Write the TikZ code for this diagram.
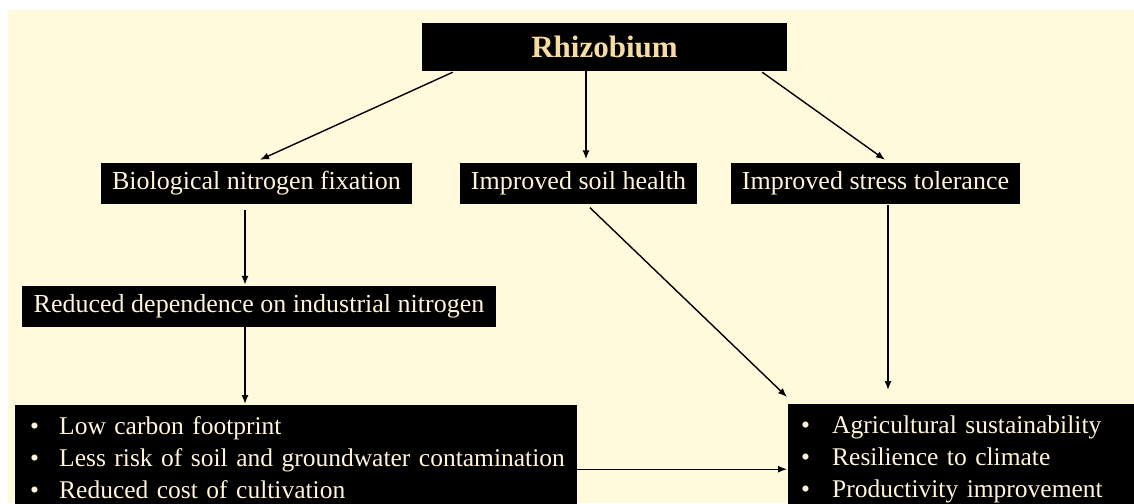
\documentclass[tikz,border=0pt]{standalone}
\usepackage{fontspec}
\setmainfont{Liberation Serif}
\usetikzlibrary{arrows.meta,calc}
\definecolor{creambg}{HTML}{FFFADC}
\definecolor{boxtext}{HTML}{FFF4DA}
\definecolor{goldtext}{HTML}{F6DCA4}

\begin{document}
\begin{tikzpicture}[x=1pt,y=-1pt,>={Latex[length=9pt,width=7pt]},line join=bevel,
  box/.style={fill=black,text=boxtext,inner sep=0pt,font=\fontsize{26}{32}\selectfont,minimum height=41pt},
  list/.style={box,anchor=north west,align=left,font=\fontsize{25.5}{32}\selectfont},
  link/.style={black,->,line width=1.4pt}]
\clip (0,0) rectangle (1134,503);
\fill[white] (0,0) rectangle (1134,503);
\fill[creambg] (8,10) rectangle (1134,503);
%%
\node (node_rhizobium) at (604.5,47) [box,minimum width=365pt,minimum height=48pt,text=goldtext,font=\fontsize{31}{36}\selectfont\bfseries] {Rhizobium};
  \node (node_fixation) at (256.5,183.5) [box,minimum width=311pt] {Biological nitrogen fixation};
  \node (node_soil) at (578.5,183) [box,minimum width=237pt] {Improved soil health};
  \node (node_stress) at (875.5,183.5) [box,minimum width=289pt] {Improved stress tolerance};
  \node (node_reduced) at (259,306.5) [box,minimum width=474pt] {Reduced dependence on industrial nitrogen};
  \node (node_benefits) at (15,405) [list,minimum width=562pt,minimum height=104pt,inner xsep=15pt,text width=532pt]
    {\mbox{\makebox[29pt][l]{\textbullet}Low carbon footprint}\\
     \mbox{\makebox[29pt][l]{\textbullet}Less risk of soil and groundwater contamination}\\
     \mbox{\makebox[29pt][l]{\textbullet}Reduced cost of cultivation}};
  \node (node_outcomes) at (788,404) [list,minimum width=360pt,minimum height=110pt,inner xsep=13pt,text width=334pt]
    {\mbox{\makebox[31pt][l]{\textbullet}Agricultural sustainability}\\
     \mbox{\makebox[31pt][l]{\textbullet}Resilience to climate}\\
     \mbox{\makebox[31pt][l]{\textbullet}Productivity improvement}};
  \draw [link] ($(node_rhizobium.south west)+(31,1)$) -- ($(node_fixation.north)+(3.5,-3)$);
  \draw [link] ($(node_rhizobium.south)+(-18.5,0)$) -- ($(node_rhizobium.south |- node_soil.north)+(-18.5,-3)$);
  \draw [link] ($(node_rhizobium.south east)+(-25,1)$) -- ($(node_stress.north)+(9.5,-3)$);
  \draw [link] ($(node_fixation.south)+(-11.5,6)$) -- ($(node_fixation.south |- node_reduced.north)+(-11.5,-1)$);
  \draw [link] ($(node_reduced.south)+(-14,0)$) -- ($(node_reduced.south |- node_benefits.north)+(-14,-1)$);
  \draw [link] ($(node_soil.south)+(11.5,4)$) -- ($(node_outcomes.north west)+(-1,-7)$);
  \draw [link] ($(node_stress.south)+(12.5,1)$) -- ($(node_stress.south |- node_outcomes.north)+(12.5,-14)$);
  \draw [link] ($(node_benefits.east)+(0,12)$) -- ($(node_outcomes.west |- node_benefits.east)+(-1,12)$);
%
\end{tikzpicture}
\end{document}
